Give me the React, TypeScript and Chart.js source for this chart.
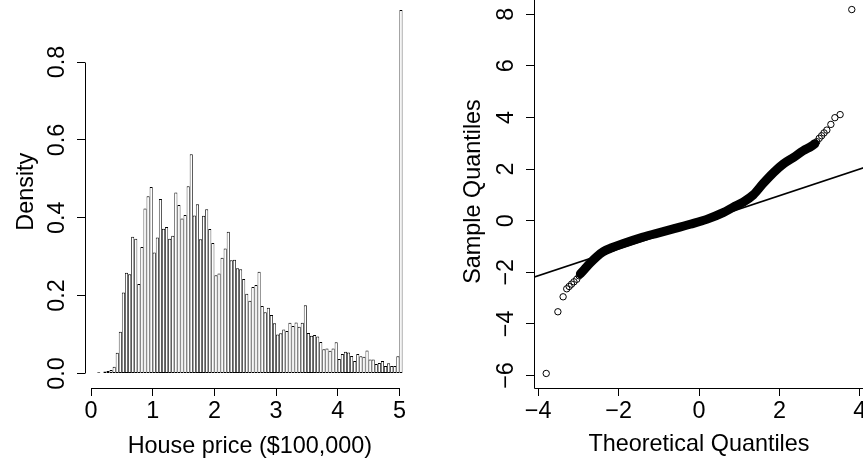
import React, { useEffect, useRef } from 'react';
import { Chart, registerables } from 'chart.js';

Chart.register(...registerables);

const FONT_FAMILY = "'Liberation Sans', Arial, Helvetica, sans-serif";
const FONT_SIZE = 23.4;

// ---------- Panel 1: histogram ----------
const histBreakStart = 0.1;
const histBinWidth = 0.05;
const histDensity = [
  0.003, 0.001, 0.005, 0.006, 0.009, 0.017, 0.053, 0.107, 0.208, 0.259,
  0.255, 0.351, 0.346, 0.230, 0.325, 0.424, 0.455, 0.479, 0.311, 0.349,
  0.448, 0.372, 0.376, 0.346, 0.354, 0.465, 0.433, 0.398, 0.407, 0.481,
  0.563, 0.406, 0.435, 0.345, 0.405, 0.422, 0.371, 0.335, 0.252, 0.257,
  0.297, 0.321, 0.364, 0.291, 0.292, 0.270, 0.268, 0.243, 0.205, 0.187,
  0.222, 0.227, 0.261, 0.173, 0.157, 0.169, 0.150, 0.129, 0.100, 0.103,
  0.113, 0.109, 0.130, 0.122, 0.131, 0.120, 0.130, 0.175, 0.104, 0.097,
  0.099, 0.095, 0.081, 0.062, 0.064, 0.058, 0.064, 0.080, 0.037, 0.050,
  0.056, 0.054, 0.045, 0.032, 0.050, 0.044, 0.043, 0.059, 0.036, 0.036,
  0.024, 0.027, 0.032, 0.019, 0.026, 0.019, 0.019, 0.044, 0.934,
];
const histXTicks = [0, 1, 2, 3, 4, 5];
const histXTickLabels = ['0', '1', '2', '3', '4', '5'];
const histYTicks = [0, 0.2, 0.4, 0.6, 0.8];
const histYTickLabels = ['0.0', '0.2', '0.4', '0.6', '0.8'];
const histXRange = [-0.098, 5.248];
const histYRange = [-0.0374, 0.9714];
const histXTitle = 'House price ($100,000)';
const histYTitle = 'Density';

// ---------- Panel 2: normal QQ plot ----------
const qqBandTheoretical = [
  -2.95, -2.88, -2.71, -2.54, -2.38, -2.17, -1.88, -1.47, -1.05, -0.64,
  -0.22, 0.19, 0.6, 0.85, 1.1, 1.35, 1.6, 1.85, 2.1, 2.35, 2.59, 2.8, 2.88,
];
const qqBandSample = [
  -2.06, -1.94, -1.65, -1.39, -1.2, -1.05, -0.88, -0.67, -0.49, -0.32,
  -0.14, 0.05, 0.31, 0.52, 0.72, 1.0, 1.45, 1.86, 2.2, 2.45, 2.71, 2.89, 2.98,
];
const qqTailTheoretical = [
  -3.8, -3.51, -3.38, -3.29, -3.23, -3.17, -3.11, -3.04, -2.98,
  2.88, 2.93, 2.99, 3.05, 3.11, 3.18, 3.28, 3.38, 3.51, 3.8,
];
const qqTailSample = [
  -5.92, -3.53, -2.95, -2.64, -2.55, -2.46, -2.37, -2.27, -2.14,
  2.98, 3.06, 3.19, 3.29, 3.4, 3.51, 3.73, 3.99, 4.11, 8.18,
];
const qqLineIntercept = -0.066;
const qqLineSlope = 0.517;
const qqLineXEnds = [-4.3, 4.3];
const qqXTicks = [-4, -2, 0, 2, 4];
const qqXTickLabels = ['\u22124', '\u22122', '0', '2', '4'];
const qqYTicks = [-6, -4, -2, 0, 2, 4, 6, 8];
const qqYTickLabels = ['\u22126', '\u22124', '\u22122', '0', '2', '4', '6', '8'];
const qqXRange = [-4.104, 4.104];
const qqYRange = [-6.484, 8.744];
const qqXTitle = 'Theoretical Quantiles';
const qqYTitle = 'Sample Quantiles';

// R-style axis lines (span first..last tick) or full box, from the chart's scales
const rAxesPlugin = {
  id: 'rAxes',
  afterDraw(chart: any, _args: any, opts: any) {
    if (!opts || !opts.mode) return;
    const { ctx, chartArea } = chart;
    const al = (p: number) => Math.round(p - 0.5) + 0.5;
    ctx.save();
    ctx.strokeStyle = '#000';
    ctx.lineWidth = 1;
    ctx.beginPath();
    if (opts.mode === 'box') {
      const l = al(chartArea.left);
      const t = al(chartArea.top);
      const r = al(chartArea.right);
      const b = al(chartArea.bottom);
      ctx.rect(l, t, r - l, b - t);
    } else {
      const xs = chart.scales.x;
      const ys = chart.scales.y;
      const xt = xs.ticks;
      const yt = ys.ticks;
      const yb = al(chartArea.bottom);
      ctx.moveTo(al(xs.getPixelForValue(xt[0].value)), yb);
      ctx.lineTo(al(xs.getPixelForValue(xt[xt.length - 1].value)), yb);
      const xl = al(chartArea.left);
      ctx.moveTo(xl, al(ys.getPixelForValue(yt[0].value)));
      ctx.lineTo(xl, al(ys.getPixelForValue(yt[yt.length - 1].value)));
    }
    ctx.stroke();
    ctx.restore();
  },
};

function rScale(o: {
  horizontal: boolean;
  range: number[];
  ticks: number[];
  labels: string[];
  title: string;
  size: number;
  tickPad: number;
  titlePad: any;
}) {
  return {
    type: 'linear',
    position: o.horizontal ? 'bottom' : 'left',
    min: o.range[0],
    max: o.range[1],
    bounds: 'data',
    offset: false,
    grid: {
      display: true,
      drawOnChartArea: false,
      drawTicks: true,
      tickLength: 8,
      color: '#000',
      tickColor: '#000',
      lineWidth: 1,
      tickWidth: 1,
      offset: false,
    },
    border: { display: false },
    ticks: {
      autoSkip: false,
      color: '#000',
      padding: o.tickPad,
      font: { family: FONT_FAMILY, size: FONT_SIZE },
      minRotation: o.horizontal ? 0 : 90,
      maxRotation: o.horizontal ? 0 : 90,
      crossAlign: o.horizontal ? 'near' : 'center',
      callback: (_v: any, i: number) => o.labels[i],
    },
    afterBuildTicks: (s: any) => {
      s.ticks = o.ticks.map((v) => ({ value: v }));
    },
    afterFit: (s: any) => {
      if (o.horizontal) s.height = o.size;
      else s.width = o.size;
    },
    title: {
      display: true,
      text: o.title,
      color: '#000',
      font: { family: FONT_FAMILY, size: FONT_SIZE },
      padding: o.titlePad,
    },
  };
}

const CANVAS_TOP = -30;
const CANVAS_H = 492;

function HistPanel() {
  const ref = useRef<HTMLCanvasElement>(null);
  useEffect(() => {
    const data = histDensity.map((d, i) => ({
      x: histBreakStart + histBinWidth * (i + 0.5),
      y: d,
    }));
    const chart = new Chart(ref.current as HTMLCanvasElement, {
      type: 'bar',
      data: {
        datasets: [
          {
            data,
            backgroundColor: '#ffffff',
            borderColor: '#000000',
            borderWidth: { top: 1, bottom: 1, left: 0.8, right: 0.8 },
            borderSkipped: false,
            barPercentage: 1,
            categoryPercentage: 1,
            inflateAmount: 0,
          } as any,
        ],
      },
      options: {
        animation: false,
        responsive: false,
        devicePixelRatio: 1,
        events: [],
        layout: { padding: { left: 0, top: 25.4, right: 432 - 414.7, bottom: 0 } },
        plugins: {
          legend: { display: false },
          tooltip: { enabled: false },
          rAxes: { mode: 'ticks' },
        } as any,
        scales: {
          x: rScale({
            horizontal: true,
            range: histXRange,
            ticks: histXTicks,
            labels: histXTickLabels,
            title: histXTitle,
            size: 74,
            tickPad: 1.5,
            titlePad: { top: 0, bottom: 1.5 },
          }),
          y: rScale({
            horizontal: false,
            range: histYRange,
            ticks: histYTicks,
            labels: histYTickLabels,
            title: histYTitle,
            size: 85,
            tickPad: 2.7,
            titlePad: { top: 13, bottom: 0 },
          }),
        } as any,
      },
      plugins: [rAxesPlugin],
    } as any);
    return () => chart.destroy();
  }, []);
  return (
    <canvas
      ref={ref}
      width={432}
      height={CANVAS_H}
      style={{ position: 'absolute', left: 0, top: CANVAS_TOP, width: 432, height: CANVAS_H }}
    />
  );
}

function QQPanel() {
  const ref = useRef<HTMLCanvasElement>(null);
  useEffect(() => {
    const band = qqBandTheoretical.map((x, i) => ({ x, y: qqBandSample[i] }));
    const tails = qqTailTheoretical.map((x, i) => ({ x, y: qqTailSample[i] }));
    const line = qqLineXEnds.map((x) => ({ x, y: qqLineIntercept + qqLineSlope * x }));
    const chart = new Chart(ref.current as HTMLCanvasElement, {
      type: 'scatter',
      data: {
        datasets: [
          {
            data: line,
            showLine: true,
            borderColor: '#000',
            borderWidth: 1.6,
            pointRadius: 0,
            order: 0,
          },
          {
            data: band,
            showLine: true,
            borderColor: '#000',
            borderWidth: 9,
            borderCapStyle: 'round',
            borderJoinStyle: 'round',
            cubicInterpolationMode: 'monotone',
            pointRadius: 0,
            order: 1,
          },
          {
            data: tails,
            showLine: false,
            pointRadius: 3.2,
            pointBorderWidth: 1,
            pointBorderColor: '#000',
            pointBackgroundColor: 'rgba(0,0,0,0)',
            order: 2,
          },
        ] as any,
      },
      options: {
        animation: false,
        responsive: false,
        devicePixelRatio: 1,
        events: [],
        layout: { padding: { left: 0, top: 25, right: 16, bottom: 0 } },
        plugins: {
          legend: { display: false },
          tooltip: { enabled: false },
          rAxes: { mode: 'box' },
        } as any,
        scales: {
          x: rScale({
            horizontal: true,
            range: qqXRange,
            ticks: qqXTicks,
            labels: qqXTickLabels,
            title: qqXTitle,
            size: 74,
            tickPad: 1.5,
            titlePad: { top: 0, bottom: 3 },
          }),
          y: rScale({
            horizontal: false,
            range: qqYRange,
            ticks: qqYTicks,
            labels: qqYTickLabels,
            title: qqYTitle,
            size: 102,
            tickPad: 5.7,
            titlePad: { top: 28, bottom: 0 },
          }),
        } as any,
      },
      plugins: [rAxesPlugin],
    } as any);
    return () => chart.destroy();
  }, []);
  return (
    <canvas
      ref={ref}
      width={448}
      height={CANVAS_H}
      style={{ position: 'absolute', left: 432, top: CANVAS_TOP, width: 448, height: CANVAS_H }}
    />
  );
}

export default function App() {
  return (
    <div
      style={{
        position: 'absolute',
        left: 0,
        top: 0,
        width: 863,
        height: 462,
        overflow: 'hidden',
        background: '#ffffff',
      }}
    >
      <HistPanel />
      <QQPanel />
    </div>
  );
}
